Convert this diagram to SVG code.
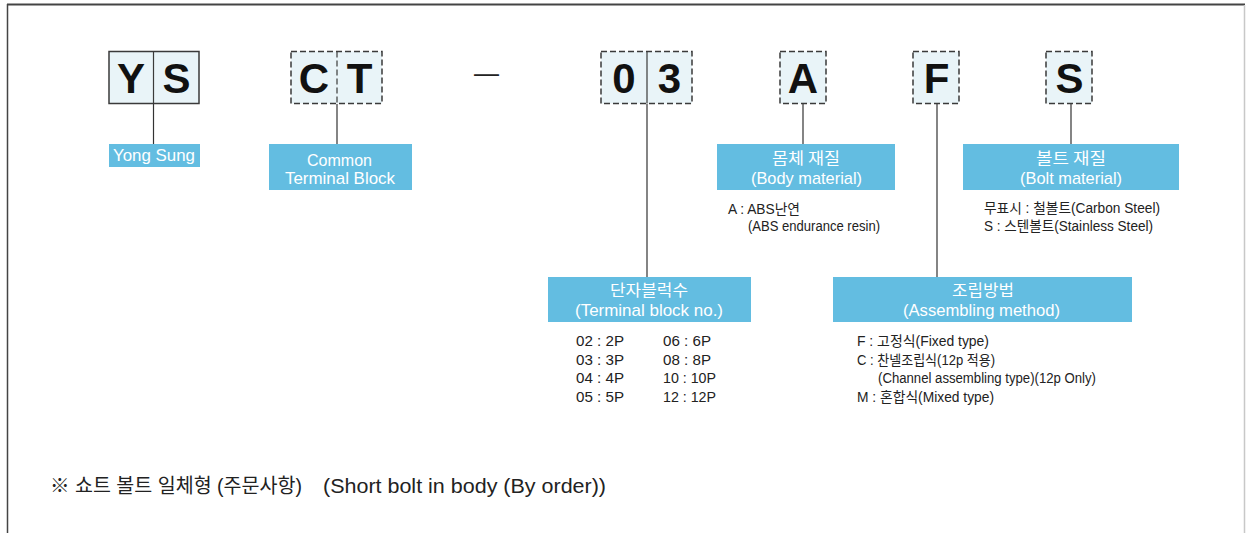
<svg xmlns="http://www.w3.org/2000/svg" width="1246" height="533" viewBox="0 0 1246 533">
<style>
.bg{fill:#ffffff}
.frame{stroke:#444;fill:none}
.frame-r{stroke:#c8c8c8;stroke-width:1.5;fill:none}
.box{fill:#E9F4F8;stroke:#3a3a3a;stroke-width:1.5}
.dashed{stroke-dasharray:6 3}
.div{stroke:#3a3a3a;stroke-width:1.2;fill:none}
.code{font-family:"Liberation Sans",Arial,sans-serif;font-weight:bold;font-size:42px;fill:#111;text-anchor:middle}
.lbl{fill:#63BDE1}
.lt{font-family:"Liberation Sans","Noto Sans CJK KR",sans-serif;font-size:17px;fill:#fff;text-anchor:middle}
.kt{font-family:"Noto Sans CJK KR","Liberation Sans",sans-serif;font-size:16px;fill:#fff;text-anchor:middle}
.body{font-family:"Liberation Sans","Noto Sans CJK KR",sans-serif;font-size:14px;fill:#222}
.note{font-family:"Liberation Sans","Noto Sans CJK KR",sans-serif;font-size:20px;fill:#222}
.conn{stroke:#333;stroke-width:1.2;fill:none}
</style>
<rect class="bg" x="0" y="0" width="1246" height="533"/>
<g id="frame">
<line class="frame" x1="7" y1="4.5" x2="1245" y2="4.5" stroke-width="2"/>
<line class="frame" x1="7.5" y1="4" x2="7.5" y2="533" stroke-width="1.5"/>
<line class="frame-r" x1="1244.5" y1="5" x2="1244.5" y2="533"/>
</g>
<g id="connectors">
<line class="conn" x1="153.5" y1="104" x2="153.5" y2="144"/>
<line class="conn" x1="337" y1="104" x2="337" y2="144"/>
<line class="conn" x1="647" y1="104" x2="647" y2="277"/>
<line class="conn" x1="803" y1="104" x2="803" y2="144"/>
<line class="conn" x1="937" y1="104" x2="937" y2="277"/>
<line class="conn" x1="1071" y1="104" x2="1071" y2="144"/>
</g>
<g id="code-YS">
<rect class="box" x="109" y="51.5" width="90" height="52"/>
<line class="div" x1="153.5" y1="51.5" x2="153.5" y2="103.5"/>
<text class="code" x="131" y="93">Y</text>
<text class="code" x="176.5" y="93">S</text>
</g>
<g id="code-CT">
<rect class="box dashed" x="291" y="51.5" width="91" height="52"/>
<line class="div dashed" x1="337" y1="51.5" x2="337" y2="103.5"/>
<text class="code" x="314" y="93">C</text>
<text class="code" x="359.5" y="93">T</text>
</g>
<g id="dash">
<text x="486.5" y="82" style="font-family:'Liberation Sans',Arial,sans-serif;font-size:25px;fill:#222;text-anchor:middle">—</text>
</g>
<g id="code-03">
<rect class="box dashed" x="601" y="51.5" width="91" height="52"/>
<line class="div" x1="647" y1="51.5" x2="647" y2="103.5"/>
<text class="code" x="624" y="93">0</text>
<text class="code" x="669.5" y="93">3</text>
</g>
<g id="code-A">
<rect class="box dashed" x="780" y="51.5" width="46" height="52"/>
<text class="code" x="803" y="93">A</text>
</g>
<g id="code-F">
<rect class="box dashed" x="913" y="51.5" width="46" height="52"/>
<text class="code" x="936.5" y="93">F</text>
</g>
<g id="code-S">
<rect class="box dashed" x="1046" y="51.5" width="46" height="52"/>
<text class="code" x="1069.5" y="93">S</text>
</g>
<g id="label-yongsung">
<rect class="lbl" x="109" y="144" width="91" height="23"/>
<text class="lt" x="154" y="161" textLength="82" lengthAdjust="spacingAndGlyphs">Yong Sung</text>
</g>
<g id="label-common">
<rect class="lbl" x="269" y="144" width="143" height="46"/>
<text class="lt" x="339.5" y="165.5" textLength="65" lengthAdjust="spacingAndGlyphs">Common</text>
<text class="lt" x="340" y="183.5" textLength="110" lengthAdjust="spacingAndGlyphs">Terminal Block</text>
</g>
<g id="label-body">
<rect class="lbl" x="717" y="144" width="178" height="46"/>
<text class="kt" x="806" y="163.5" textLength="68" lengthAdjust="spacingAndGlyphs">몸체 재질</text>
<text class="lt" x="806.5" y="184" textLength="111" lengthAdjust="spacingAndGlyphs">(Body material)</text>
<text class="body" x="728" y="214" textLength="72" lengthAdjust="spacingAndGlyphs">A : ABS난연</text>
<text class="body" x="748" y="231" textLength="132" lengthAdjust="spacingAndGlyphs">(ABS endurance resin)</text>
</g>
<g id="label-bolt">
<rect class="lbl" x="963" y="144" width="216" height="46"/>
<text class="kt" x="1071" y="163.5" textLength="70" lengthAdjust="spacingAndGlyphs">볼트 재질</text>
<text class="lt" x="1071" y="184" textLength="102" lengthAdjust="spacingAndGlyphs">(Bolt material)</text>
<text class="body" x="984" y="213" textLength="176" lengthAdjust="spacingAndGlyphs">무표시 : 철볼트(Carbon Steel)</text>
<text class="body" x="984" y="231" textLength="169" lengthAdjust="spacingAndGlyphs">S : 스텐볼트(Stainless Steel)</text>
</g>
<g id="label-terminal">
<rect class="lbl" x="548" y="277" width="203" height="45"/>
<text class="kt" x="649" y="295.5" textLength="78" lengthAdjust="spacingAndGlyphs">단자블럭수</text>
<text class="lt" x="649" y="316" textLength="148" lengthAdjust="spacingAndGlyphs">(Terminal block no.)</text>
<text class="body" x="576" y="346" textLength="48" lengthAdjust="spacingAndGlyphs">02 : 2P</text>
<text class="body" x="576" y="364.5" textLength="48" lengthAdjust="spacingAndGlyphs">03 : 3P</text>
<text class="body" x="576" y="383" textLength="48" lengthAdjust="spacingAndGlyphs">04 : 4P</text>
<text class="body" x="576" y="401.5" textLength="48" lengthAdjust="spacingAndGlyphs">05 : 5P</text>
<text class="body" x="663" y="346" textLength="48" lengthAdjust="spacingAndGlyphs">06 : 6P</text>
<text class="body" x="663" y="364.5" textLength="48" lengthAdjust="spacingAndGlyphs">08 : 8P</text>
<text class="body" x="663" y="383" textLength="53" lengthAdjust="spacingAndGlyphs">10 : 10P</text>
<text class="body" x="663" y="401.5" textLength="53" lengthAdjust="spacingAndGlyphs">12 : 12P</text>
</g>
<g id="label-assembling">
<rect class="lbl" x="833" y="277" width="299" height="45"/>
<text class="kt" x="983" y="295.5" textLength="62" lengthAdjust="spacingAndGlyphs">조립방법</text>
<text class="lt" x="981.5" y="316" textLength="157" lengthAdjust="spacingAndGlyphs">(Assembling method)</text>
<text class="body" x="857" y="346" textLength="132" lengthAdjust="spacingAndGlyphs">F : 고정식(Fixed type)</text>
<text class="body" x="857" y="364.5" textLength="138" lengthAdjust="spacingAndGlyphs">C : 찬넬조립식(12p 적용)</text>
<text class="body" x="878" y="383" textLength="218" lengthAdjust="spacingAndGlyphs">(Channel assembling type)(12p Only)</text>
<text class="body" x="857" y="401.5" textLength="137" lengthAdjust="spacingAndGlyphs">M : 혼합식(Mixed type)</text>
</g>
<g id="note">
<text class="note" x="50" y="493" textLength="252" lengthAdjust="spacingAndGlyphs">※ 쇼트 볼트 일체형 (주문사항)</text>
<text class="note" x="323" y="493" textLength="283" lengthAdjust="spacingAndGlyphs">(Short bolt in body (By order))</text>
</g>
</svg>
